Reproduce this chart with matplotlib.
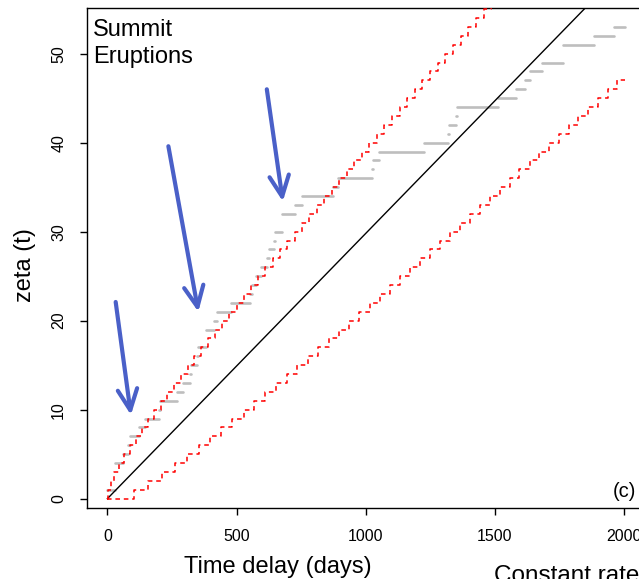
import numpy as np
import matplotlib
matplotlib.use("Agg")
import matplotlib.pyplot as plt

plt.rcParams["font.family"] = ["Liberation Sans", "DejaVu Sans"]

# Onset day of each summit eruption (cumulative count steps up by one at each)
eruption_days = [0, 30, 30, 30, 61, 80, 88, 123, 146, 199,
                 202, 270, 293, 320, 322, 347, 349, 380, 382, 411,
                 426, 477, 552, 560, 577, 593, 618, 626, 645, 647,
                 674, 676, 726, 755, 873, 893, 1024, 1028, 1052, 1224,
                 1318, 1322, 1349, 1353, 1510, 1580, 1618, 1636, 1682, 1762,
                 1764, 1882, 1961]
record_end_day = 2003

# Days at which the upper / lower bound for a constant rate steps up one count
upper_step_days = [2, 12, 27, 46, 66, 88, 110, 134, 158, 182,
                   207, 232, 258, 284, 310, 337, 363, 390, 418, 445,
                   472, 500, 528, 555, 583, 611, 640, 668, 696, 725,
                   753, 782, 811, 839, 868, 897, 926, 955, 984, 1013,
                   1043, 1072, 1101, 1131, 1160, 1189, 1219, 1249, 1278, 1308,
                   1337, 1367, 1397, 1427, 1456, 1486]
lower_step_days = [101, 159, 211, 260, 307, 353, 397, 441, 484, 527,
                   569, 611, 653, 694, 735, 775, 816, 856, 896, 936,
                   975, 1015, 1054, 1094, 1133, 1172, 1211, 1250, 1288, 1327,
                   1366, 1404, 1442, 1481, 1519, 1557, 1595, 1634, 1672, 1710,
                   1747, 1785, 1823, 1861, 1899, 1936, 1974]

# Constant-rate expectation line
rate_line_days = [0, 2100]
rate_line_zeta = [0, 62.6]

ARROW_BLUE = "#4a60c8"

fig = plt.figure(figsize=(6.39, 5.79), dpi=100)
ax = fig.add_axes([87 / 639, 1 - 508 / 579, (643.5 - 87) / 639, (508 - 8.3) / 579])

# observed cumulative count: one flat grey segment per level
levels = np.arange(1, len(eruption_days) + 1)
seg_end = eruption_days[1:] + [record_end_day]
ax.hlines(levels, eruption_days, seg_end, colors="#bebebe", linewidth=1.9,
          capstyle="round", zorder=2)

ax.plot(rate_line_days, rate_line_zeta, color="black", linewidth=1.0, zorder=3)

upper_x = [0] + upper_step_days + [record_end_day]
upper_y = list(range(len(upper_step_days) + 1)) + [len(upper_step_days)]
lower_x = [0] + lower_step_days + [record_end_day]
lower_y = list(range(len(lower_step_days) + 1)) + [len(lower_step_days)]
dash = (0, (3, 2.5))
ax.step(upper_x, upper_y, where="post", color="red", linewidth=1.1,
        linestyle=dash, zorder=4)
ax.step(lower_x, lower_y, where="post", color="red", linewidth=1.1,
        linestyle=dash, zorder=4)

# arrows pointing at the bursts of activity
for tail, tip in [((32, 22.1), (91, 9.4)),
                  ((236, 39.6), (352, 21.0)),
                  ((617, 46.0), (679, 33.4))]:
    ax.annotate("", xy=tip, xytext=tail,
                arrowprops=dict(arrowstyle="->,head_length=1.5,head_width=0.7",
                                color=ARROW_BLUE, lw=3.0, shrinkA=0, shrinkB=0),
                zorder=5)

ax.set_xlim(-79, 2075)
ax.set_ylim(-1.05, 55.1)
ax.set_xticks([0, 500, 1000, 1500, 2000])
ax.set_yticks([0, 10, 20, 30, 40, 50])
ax.spines["right"].set_visible(False)
for side in ("left", "top", "bottom"):
    ax.spines[side].set_linewidth(1.0)
ax.tick_params(direction="out", length=5, width=1, pad=10, labelsize=11.5)
for lab in ax.get_yticklabels():
    lab.set_rotation(90)
    lab.set_verticalalignment("center")

ax.text(0.011, 0.978, "Summit\nEruptions", transform=ax.transAxes,
        ha="left", va="top", fontsize=17, linespacing=1.25)
ax.text(2046, 0.2, "(c)", ha="right", va="baseline", fontsize=14.5)

fig.text(277.5 / 639, 1 - 573 / 579, "Time delay (days)", ha="center",
         va="baseline", fontsize=17)
fig.text(25 / 639, 1 - 265 / 579, "zeta (t)", ha="center", va="center",
         rotation=90, fontsize=17)
fig.text(494 / 639, 1 - 582 / 579, "Constant rate", ha="left", va="baseline",
         fontsize=17.5)

fig.savefig("out.png", dpi=100)
